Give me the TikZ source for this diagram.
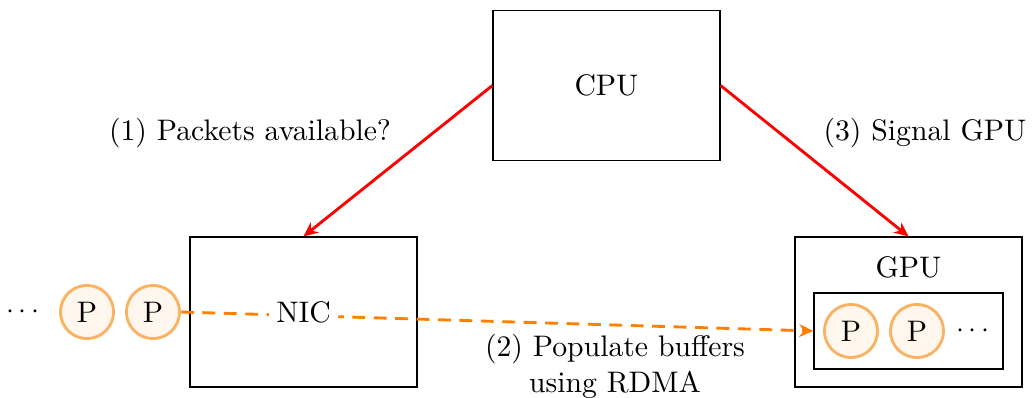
\documentclass[tikz,border=0pt]{standalone}
\usetikzlibrary{arrows.meta}
\definecolor{pktline}{HTML}{F9B262}
\definecolor{pktfill}{HTML}{FFF7EE}
\definecolor{rdma}{HTML}{FF8000}
\begin{document}
\begin{tikzpicture}[x=0.35pt,y=-0.35pt,
  every node/.style={font=\fontsize{10.4}{12.6}\selectfont},
  unit/.style={draw=black,line width=0.4pt,minimum width=79.45pt,minimum height=52.5pt,inner sep=0pt},
  buf/.style={draw=black,line width=0.4pt,minimum width=66.15pt,minimum height=26.6pt,inner sep=0pt},
  pkt/.style={circle,draw=pktline,fill=pktfill,line width=1pt,minimum size=18.6pt,inner sep=0pt},
  ctrl/.style={red,line width=1pt,-{Stealth[length=5pt,width=4.5pt]}},
  copy/.style={rdma,line width=1pt,dash pattern=on 4.5pt off 3pt,-{Stealth[length=5pt,width=4.5pt]}},
  lbl/.style={align=center,inner sep=0pt}]
\useasboundingbox (0,0) rectangle (1032,398);

% hosts and devices
\node[unit] (cpu) at (606.5,85.5) {CPU};
\node[unit] (nic) at (303.5,312) {};
\node[unit] (gpu) at (908.5,312) {};
\node[lbl] (gpulbl) at (908.5,267) {GPU};
\node[buf] (ring) at (908.5,331) {};

% incoming packets at the NIC
\node[lbl] (indots) at (23,312) {$\cdots$};
\node[pkt] (in1) at (87,312) {P};
\node[pkt] (in2) at (153,312) {P};

% packets already in GPU buffers
\node[pkt] (out1) at (851,331) {P};
\node[pkt] (out2) at (917,331) {P};
\node[lbl] (outdots) at (973,331) {$\cdots$};

% RDMA transfer, passing behind the NIC label
\draw[copy] (in2.east) -- (ring.west);
\node[fill=white,inner xsep=2.5pt,inner ysep=1.5pt] (niclbl) at (303.5,312) {NIC};

% control path
\draw[ctrl] (cpu.west) -- (nic.north);
\draw[ctrl] (cpu.east) -- (gpu.north);

% step labels
\node[lbl] (s1) at (250,133) {(1) Packets available?};
\node[lbl] (s3) at (925,133) {(3) Signal GPU};
\node[lbl] (s2) at (615,366) {(2) Populate buffers\\using RDMA};
\end{tikzpicture}
\end{document}
